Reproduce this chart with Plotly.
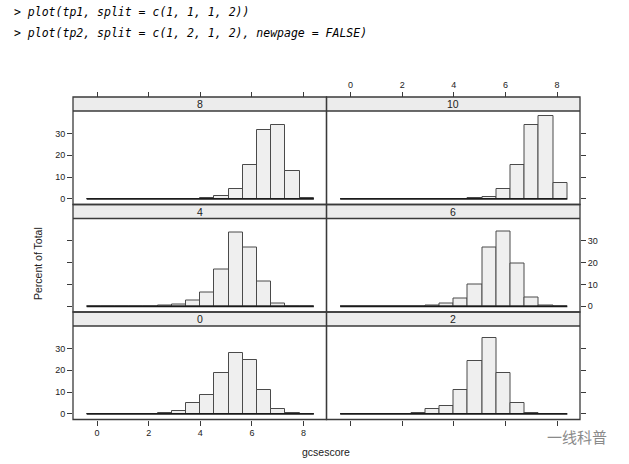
import plotly.graph_objects as go

# histogram breaks (16 bins, width 0.55, from -0.4 to 8.4)
breaks = [-0.4 + 0.55 * i for i in range(17)]
centers = [(breaks[i] + breaks[i + 1]) / 2 for i in range(16)]

# percent of total per bin, one list per score panel
pct_0 = [0, 0, 0, 0, 0.05, 0.5, 1.5, 4.9, 8.8, 18.9, 27.8, 24.8, 10.8, 2.0, 0.3, 0.1]
pct_2 = [0, 0, 0, 0, 0.1, 0.5, 2.0, 3.8, 10.9, 24.2, 34.6, 18.9, 5.2, 0.5, 0.05, 0]
pct_4 = [0, 0, 0, 0, 0, 0.2, 0.9, 2.6, 6.4, 17.0, 33.7, 27.0, 11.3, 1.5, 0.1, 0]
pct_6 = [0, 0, 0, 0, 0, 0.05, 0.4, 1.2, 3.4, 10.0, 27.0, 34.5, 19.6, 4.1, 0.2, 0]
pct_8 = [0, 0, 0, 0, 0, 0, 0.05, 0.1, 0.4, 1.4, 4.6, 15.4, 31.4, 34.0, 12.8, 0.4]
pct_10 = [0, 0, 0, 0, 0, 0, 0, 0, 0.05, 0.2, 0.9, 4.3, 15.4, 34.0, 38.0, 7.2]

panel_labels = ['0', '2', '4', '6', '8', '10']
panel_values = [pct_0, pct_2, pct_4, pct_6, pct_8, pct_10]

x_ticks = [0, 2, 4, 6, 8]
y_ticks = [0, 10, 20, 30]

W, H = 629, 464
col_px = [(73, 326.5), (326.5, 580)]
row_px = [(326, 419.5), (218.5, 312), (111, 204.5)]  # bottom, middle, top (plot area)
strip_h = 14
panel_h = 93.5

FRAME = '#3a3a3a'
TEXT = '#222222'
tick_font = dict(family='Liberation Sans, Arial, sans-serif', size=9, color=TEXT)

fig = go.Figure()
layout = {}
shapes = []
annotations = []

for k in range(6):
    row, col = k // 2, k % 2
    n = k + 1
    xa = 'x' if n == 1 else 'x%d' % n
    ya = 'y' if n == 1 else 'y%d' % n
    xname = 'xaxis' if n == 1 else 'xaxis%d' % n
    yname = 'yaxis' if n == 1 else 'yaxis%d' % n

    x0, x1 = col_px[col]
    top, bot = row_px[row]

    fig.add_trace(go.Bar(
        x=centers, y=panel_values[k], width=0.55,
        marker=dict(color='#efefef', line=dict(color='#4a4a4a', width=1)),
        xaxis=xa, yaxis=ya, showlegend=False, hoverinfo='skip'
    ))
    # base line along the full break range
    fig.add_trace(go.Scatter(
        x=[breaks[0], breaks[-1]], y=[0, 0], mode='lines',
        line=dict(color='#1a1a1a', width=1.8),
        xaxis=xa, yaxis=ya, showlegend=False, hoverinfo='skip'
    ))

    xax = dict(domain=[x0 / W, x1 / W], range=[-0.93, 8.89],
               tickvals=x_ticks, showgrid=False, zeroline=False,
               showline=False, tickfont=tick_font, ticklen=5,
               tickcolor=FRAME, anchor=ya, automargin=False)
    if row == 0:
        xax.update(ticks='outside', side='bottom', showticklabels=(col == 0))
    elif row == 2:
        xax.update(ticks='outside', side='top', anchor='free',
                   position=1 - (top - strip_h) / H,
                   showticklabels=(col == 1))
    else:
        xax.update(ticks='', showticklabels=False)
    layout[xname] = xax

    yax = dict(domain=[1 - bot / H, 1 - top / H], range=[-2.6, 40.3],
               tickvals=y_ticks, showgrid=False, zeroline=False,
               showline=False, tickfont=tick_font, ticklen=5,
               tickcolor=FRAME, ticks='outside', anchor=xa, automargin=False,
               side='left' if col == 0 else 'right')
    if col == 0:
        yax['showticklabels'] = row != 1
    else:
        yax['showticklabels'] = row == 1
    layout[yname] = yax

    s_top = 1 + strip_h / panel_h
    # strip background
    shapes.append(dict(type='rect', xref=xa + ' domain', yref=ya + ' domain',
                       x0=0, x1=1, y0=1, y1=s_top, fillcolor='#ececec',
                       line=dict(width=0), layer='below'))
    # frame around panel and strip
    shapes.append(dict(type='rect', xref=xa + ' domain', yref=ya + ' domain',
                       x0=0, x1=1, y0=0, y1=s_top,
                       line=dict(color=FRAME, width=1.3), layer='above'))
    shapes.append(dict(type='line', xref=xa + ' domain', yref=ya + ' domain',
                       x0=0, x1=1, y0=1, y1=1,
                       line=dict(color=FRAME, width=1.3), layer='above'))
    annotations.append(dict(text=panel_labels[k], xref=xa + ' domain',
                            yref=ya + ' domain', x=0.5, y=1 + strip_h / 2 / panel_h,
                            showarrow=False, xanchor='center', yanchor='middle',
                            font=dict(family='Liberation Sans, Arial, sans-serif',
                                      size=10.5, color=TEXT)))

code_font = dict(family='DejaVu Sans Mono, monospace', size=11.5, color='#000000',
                 style='italic')
label_font = dict(family='Liberation Sans, Arial, sans-serif', size=10.5, color=TEXT)
annotations += [
    dict(text='> plot(tp1, split = c(1, 1, 1, 2))', xref='paper', yref='paper',
         x=12 / W, y=1 - 12 / H, xanchor='left', yanchor='middle',
         showarrow=False, font=code_font),
    dict(text='> plot(tp2, split = c(1, 2, 1, 2), newpage = FALSE)', xref='paper',
         yref='paper', x=12 / W, y=1 - 33 / H, xanchor='left', yanchor='middle',
         showarrow=False, font=code_font),
    dict(text='Percent of Total', xref='paper', yref='paper', x=38 / W,
         y=1 - 264 / H, textangle=-90, showarrow=False, xanchor='center',
         yanchor='middle', font=label_font),
    dict(text='gcsescore', xref='paper', yref='paper', x=326 / W, y=1 - 452 / H,
         showarrow=False, xanchor='center', yanchor='middle', font=label_font),
    dict(text='一线科普', xref='paper', yref='paper', x=609 / W, y=1 - 436 / H,
         showarrow=False, xanchor='right', yanchor='middle',
         font=dict(family='Noto Sans CJK SC', size=15, color='#8a8a8a')),
]

fig.update_layout(
    width=W, height=H,
    margin=dict(l=0, r=0, t=0, b=0, autoexpand=False),
    paper_bgcolor='white', plot_bgcolor='white',
    bargap=0, shapes=shapes, annotations=annotations,
    **layout
)

# drop the default page margin so the figure sits at the window's corner
fig.write_html("out.html", config={'displayModeBar': False},
               post_script="document.body.style.margin='0';document.body.style.overflow='hidden';")
